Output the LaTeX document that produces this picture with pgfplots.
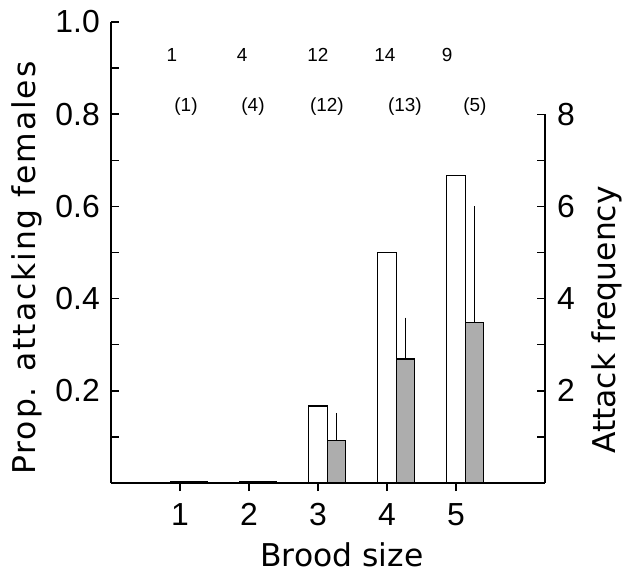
\documentclass[border=0pt]{standalone}
\usepackage{fontspec}
\setmainfont{Liberation Sans}
\newfontfamily\labL[LetterSpace=6]{DejaVu Sans}
\newfontfamily\labR{DejaVu Sans}
\usepackage{pgfplots}
\pgfplotsset{compat=1.18}
\definecolor{stipple}{gray}{0.68}

\begin{document}
\begin{tikzpicture}
\pgfplotsset{
  brood/.style={
    scale only axis, width=434bp, height=461bp,
    xmin=0, xmax=6.29, clip=false,
    axis line style={line width=1.6bp},
    tick style={line width=1.4bp, black},
    tick align=inside,
    major tick length=8bp, minor tick length=8bp,
    ybar, bar width=18.5bp,
  },
}
\begin{axis}[brood, name=ax,
  ymin=0, ymax=1,
  axis x line*=bottom, axis y line*=left,
  xtick={1,2,3,4,5}, xticklabels={1,2,3,4,5},
  ytick={0.2,0.4,0.6,0.8,1.0}, yticklabels={0.2,0.4,0.6,0.8,1.0},
  minor ytick={0.1,0.3,0.5,0.7,0.9},
  xticklabel style={font=\fontsize{32}{36}\selectfont, anchor=north, inner sep=0pt, yshift=-12bp},
  yticklabel style={font=\fontsize{32}{36}\selectfont, anchor=east, inner sep=0pt, xshift=-11bp},
  xlabel={\labR Brood size},
  xlabel style={font=\fontsize{31.5}{36}\selectfont, at={(axis description cs:0.532,0)}, anchor=base, yshift=-83bp, text depth=0pt, inner sep=0pt},
]
% proportion of females attacking (white bars)
\addplot[draw=black, fill=white, line width=1.4bp, bar shift=0pt]
  coordinates {(1,0.003) (2,0.003) (3,0.1667) (4,0.5) (5,0.6667)};
% sample sizes
\begin{scope}[font=\fontsize{19}{21}\selectfont]
\node at (axis cs:0.884,0.928) {1};
\node at (axis cs:1.899,0.928) {4};
\node at (axis cs:3.00,0.928) {12};
\node at (axis cs:3.97,0.928) {14};
\node at (axis cs:4.87,0.928) {9};
\node at (axis cs:1.087,0.816) {(1)};
\node at (axis cs:2.058,0.816) {(4)};
\node at (axis cs:3.13,0.816) {(12)};
\node at (axis cs:4.26,0.816) {(13)};
\node at (axis cs:5.275,0.816) {(5)};
\end{scope}
\end{axis}

\begin{axis}[brood, at={(ax.south west)}, anchor=south west,
  height=368.8bp,
  ymin=0, ymax=8,
  hide x axis, axis y line*=right,
  ytick={2,4,6,8}, yticklabels={2,4,6,8},
  minor ytick={1,3,5,7},
  yticklabel style={font=\fontsize{32}{36}\selectfont, anchor=west, inner sep=0pt, xshift=12bp},
]
% attack frequency (stippled bars), upward SE only
\addplot[draw=black, fill=stipple, line width=1.4bp, bar shift=18.5bp,
  error bars/.cd, y dir=plus, y explicit, error mark=none,
  error bar style={line width=1.4bp, black}]
  coordinates {(1,0.03) +- (0,0) (2,0.03) +- (0,0) (3,0.92) +- (0,0.60) (4,2.69) +- (0,0.90) (5,3.48) +- (0,2.52)};
\end{axis}

\path (ax.south west) ++(-84bp,215bp) node[rotate=90, font=\fontsize{31.5}{36}\selectfont] {\labL Prop. attacking females};
\path (ax.south east) ++(62bp,163bp) node[rotate=90, font=\fontsize{31.5}{36}\selectfont] {\labR Attack frequency};

\pgfresetboundingbox
\path (ax.south west) ++(-111bp,-89bp) rectangle ++(637bp,572bp);
\end{tikzpicture}
\end{document}
